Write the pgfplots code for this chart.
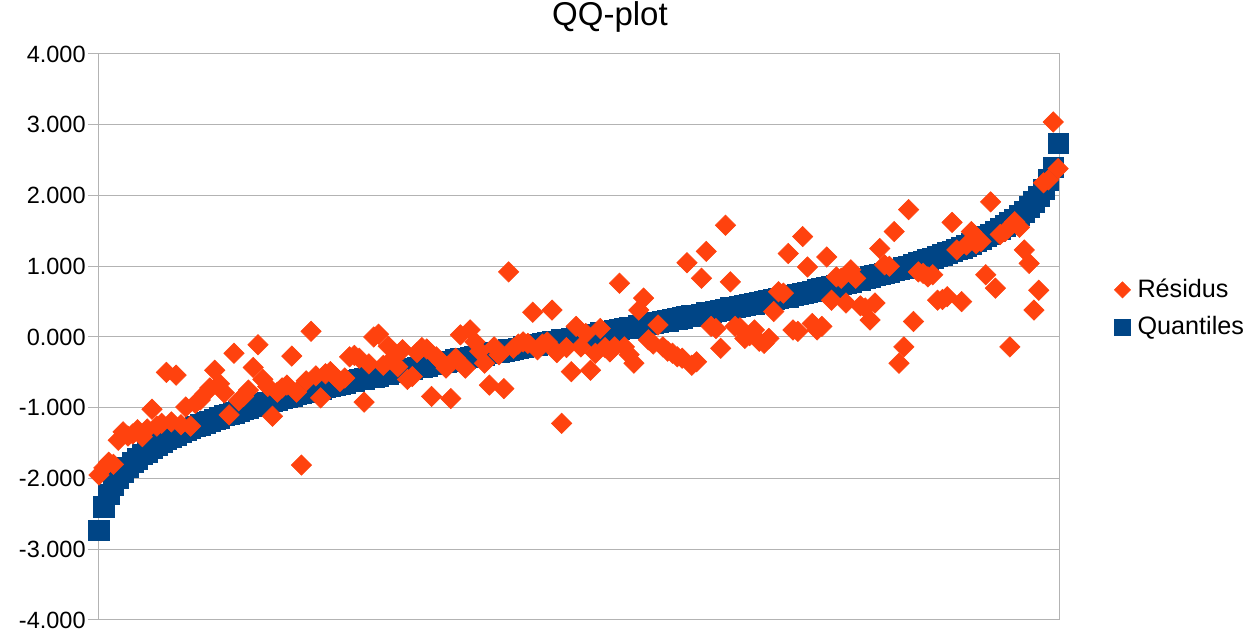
\documentclass[border=0pt]{standalone}
\usepackage{pgfplots}
\usepackage{pgfplotstable}
\pgfplotsset{compat=1.18}
\usepackage{fontspec}
\setmainfont{Liberation Sans}
\definecolor{lored}{HTML}{FF420E}
\definecolor{loblue}{HTML}{004586}
\definecolor{gridgray}{HTML}{B3B3B3}

\pgfplotstableread{
i q r
1 -2.735 -1.95
2 -2.40 -1.85
3 -2.22 -1.77
4 -2.09 -1.80
5 -1.99 -1.46
6 -1.91 -1.34
7 -1.84 -1.40
8 -1.77 -1.37
9 -1.72 -1.31
10 -1.66 -1.41
11 -1.62 -1.30
12 -1.57 -1.02
13 -1.53 -1.26
14 -1.49 -1.22
15 -1.45 -0.50
16 -1.42 -1.20
17 -1.39 -0.54
18 -1.35 -1.24
19 -1.32 -0.99
20 -1.29 -1.26
21 -1.26 -0.94
22 -1.24 -0.89
23 -1.21 -0.80
24 -1.19 -0.72
25 -1.16 -0.47
26 -1.14 -0.66
27 -1.11 -0.79
28 -1.09 -1.10
29 -1.07 -0.23
30 -1.05 -0.90
31 -1.02 -0.84
32 -1.00 -0.75
33 -0.98 -0.43
34 -0.96 -0.11
35 -0.94 -0.60
36 -0.92 -0.70
37 -0.90 -1.12
38 -0.89 -0.78
39 -0.87 -0.72
40 -0.85 -0.68
41 -0.83 -0.27
42 -0.81 -0.78
43 -0.80 -1.81
44 -0.78 -0.62
45 -0.76 0.08
46 -0.75 -0.55
47 -0.73 -0.86
48 -0.71 -0.52
49 -0.70 -0.49
50 -0.68 -0.56
51 -0.67 -0.63
52 -0.65 -0.58
53 -0.63 -0.28
54 -0.62 -0.26
55 -0.60 -0.30
56 -0.59 -0.92
57 -0.57 -0.38
58 -0.56 0.00
59 -0.55 0.04
60 -0.53 -0.40
61 -0.52 -0.13
62 -0.50 -0.30
63 -0.49 -0.42
64 -0.47 -0.18
65 -0.46 -0.60
66 -0.45 -0.56
67 -0.43 -0.22
68 -0.42 -0.15
69 -0.41 -0.17
70 -0.39 -0.84
71 -0.38 -0.28
72 -0.36 -0.35
73 -0.35 -0.44
74 -0.34 -0.87
75 -0.32 -0.30
76 -0.31 0.03
77 -0.30 -0.44
78 -0.29 0.10
79 -0.27 -0.07
80 -0.26 -0.20
81 -0.25 -0.37
82 -0.23 -0.68
83 -0.22 -0.14
84 -0.21 -0.25
85 -0.20 -0.73
86 -0.18 0.92
87 -0.17 -0.16
88 -0.16 -0.10
89 -0.14 -0.07
90 -0.13 -0.09
91 -0.12 0.35
92 -0.11 -0.18
93 -0.09 -0.10
94 -0.08 -0.07
95 -0.07 0.38
96 -0.06 -0.22
97 -0.04 -1.22
98 -0.03 -0.15
99 -0.02 -0.49
100 -0.01 0.15
101 0.01 -0.14
102 0.02 0.05
103 0.03 -0.47
104 0.04 -0.23
105 0.06 0.12
106 0.07 -0.15
107 0.08 -0.21
108 0.09 -0.14
109 0.11 0.76
110 0.12 -0.14
111 0.13 -0.25
112 0.14 -0.37
113 0.16 0.38
114 0.17 0.55
115 0.18 -0.04
116 0.20 -0.10
117 0.21 0.17
118 0.22 -0.14
119 0.23 -0.20
120 0.25 -0.23
121 0.26 -0.28
122 0.27 -0.30
123 0.29 1.05
124 0.30 -0.40
125 0.31 -0.35
126 0.32 0.83
127 0.34 1.21
128 0.35 0.15
129 0.36 0.12
130 0.38 -0.16
131 0.39 1.58
132 0.41 0.78
133 0.42 0.15
134 0.43 0.13
135 0.45 -0.02
136 0.46 0.02
137 0.47 0.10
138 0.49 -0.06
139 0.50 -0.09
140 0.52 -0.02
141 0.53 0.36
142 0.55 0.64
143 0.56 0.62
144 0.57 1.18
145 0.59 0.10
146 0.60 0.08
147 0.62 1.42
148 0.63 0.99
149 0.65 0.19
150 0.67 0.10
151 0.68 0.15
152 0.70 1.13
153 0.71 0.52
154 0.73 0.85
155 0.75 0.83
156 0.76 0.48
157 0.78 0.95
158 0.80 0.83
159 0.81 0.44
160 0.83 0.41
161 0.85 0.24
162 0.87 0.48
163 0.89 1.25
164 0.90 1.02
165 0.92 1.00
166 0.94 1.49
167 0.96 -0.37
168 0.98 -0.14
169 1.00 1.80
170 1.02 0.22
171 1.05 0.92
172 1.07 0.90
173 1.09 0.85
174 1.11 0.88
175 1.14 0.52
176 1.16 0.53
177 1.19 0.57
178 1.21 1.62
179 1.24 1.23
180 1.26 0.50
181 1.29 1.30
182 1.32 1.49
183 1.35 1.32
184 1.39 1.35
185 1.42 0.88
186 1.45 1.91
187 1.49 0.69
188 1.53 1.45
189 1.57 1.49
190 1.62 -0.14
191 1.66 1.63
192 1.72 1.55
193 1.77 1.23
194 1.84 1.04
195 1.91 0.38
196 1.99 0.66
197 2.09 2.18
198 2.22 2.22
199 2.40 3.04
200 2.735 2.38
}\qqdata

\begin{document}
\begin{tikzpicture}
\useasboundingbox (-49.5pt,-8pt) rectangle (580.5pt,310pt);
\begin{axis}[
  at={(0pt,0pt)}, anchor=south west,
  scale only axis, width=480.5pt, height=283pt,
  xmin=1, xmax=200.4, ymin=-4, ymax=4,
  clip=false,
  xtick=\empty,
  ytick={-4,-3,-2,-1,0,1,2,3,4},
  yticklabels={-4.000,-3.000,-2.000,-1.000,0.000,1.000,2.000,3.000,4.000},
  ymajorgrids,
  grid style={line width=0.5pt, draw=gridgray},
  axis line style={line width=0.5pt, draw=gridgray},
  ytick pos=left, tick align=outside, major tick length=5.5pt,
  tick style={line width=0.5pt, draw=gridgray},
  yticklabel style={font=\fontsize{11.75}{14}\selectfont, text=black, inner sep=0pt, anchor=east, xshift=-1pt},
  title={QQ-plot},
  title style={at={(axis description cs:0.5317,1.0283)}, anchor=base, font=\fontsize{16.5}{20}\selectfont, inner sep=0pt},
  legend image code/.code={\draw[#1] plot coordinates {(0pt,0pt)};},
  legend style={at={(axis description cs:1.0562,0.5504)}, anchor=west, draw=none, fill=none,
    inner sep=0pt, font=\fontsize{12.6}{15}\selectfont, row sep=5pt, column sep=2pt,
    nodes={inner sep=1.5pt}},
  legend cell align=left,
]
\addplot[only marks, color=loblue, mark=square*, mark size=5.1pt, mark options={fill=loblue, draw=loblue, line width=0.3pt}, forget plot]
  table[x=i, y=q] {\qqdata};
\addplot[only marks, color=lored, mark=square*, mark size=3.6pt, mark options={rotate=45, fill=lored, draw=lored, line width=0.3pt}, forget plot]
  table[x=i, y=r] {\qqdata};
\addlegendimage{only marks, color=lored, mark=square*, mark size=2.85pt, mark options={rotate=45, fill=lored, draw=lored, line width=0.3pt}}
\addlegendentry{Résidus}
\addlegendimage{only marks, color=loblue, mark=square*, mark size=4.0pt, mark options={fill=loblue, draw=loblue, line width=0.3pt}}
\addlegendentry{Quantiles}
\end{axis}
\end{tikzpicture}
\end{document}
